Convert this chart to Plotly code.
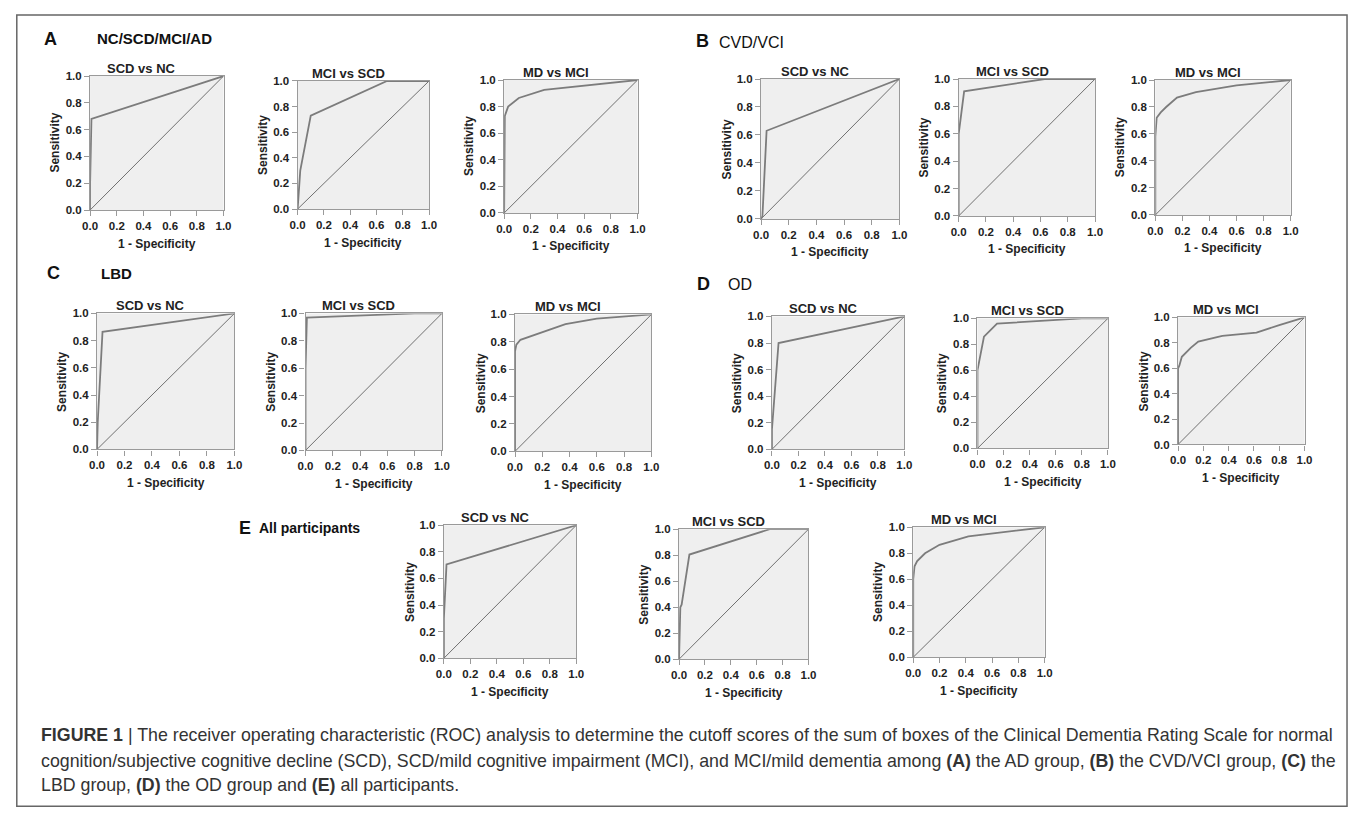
import plotly.graph_objects as go

# ---------------- data ----------------
comparisons = ["SCD vs NC", "MCI vs SCD", "MD vs MCI"]
tick_vals = [0.0, 0.2, 0.4, 0.6, 0.8, 1.0]
tick_text = ["0.0", "0.2", "0.4", "0.6", "0.8", "1.0"]

# A  NC/SCD/MCI/AD
A_scd_nc_fpr = [0.0, 0.0, 0.01, 1.0]
A_scd_nc_tpr = [0.0, 0.20, 0.68, 1.0]
A_mci_scd_fpr = [0.0, 0.01, 0.02, 0.10, 0.68, 1.0]
A_mci_scd_tpr = [0.0, 0.12, 0.30, 0.73, 1.0, 1.0]
A_md_mci_fpr = [0.0, 0.0, 0.005, 0.03, 0.11, 0.30, 1.0]
A_md_mci_tpr = [0.0, 0.60, 0.73, 0.80, 0.865, 0.925, 1.0]

# B  CVD/VCI
B_scd_nc_fpr = [0.0, 0.01, 0.04, 1.0]
B_scd_nc_tpr = [0.0, 0.02, 0.63, 1.0]
B_mci_scd_fpr = [0.0, 0.0, 0.04, 0.63, 1.0]
B_mci_scd_tpr = [0.0, 0.60, 0.91, 1.0, 1.0]
B_md_mci_fpr = [0.0, 0.0, 0.01, 0.04, 0.08, 0.16, 0.30, 0.60, 1.0]
B_md_mci_tpr = [0.0, 0.58, 0.72, 0.76, 0.80, 0.87, 0.91, 0.96, 1.0]

# C  LBD
C_scd_nc_fpr = [0.0, 0.005, 0.04, 1.0]
C_scd_nc_tpr = [0.0, 0.20, 0.865, 1.0]
C_mci_scd_fpr = [0.0, 0.0, 0.01, 0.80, 1.0]
C_mci_scd_tpr = [0.0, 0.60, 0.97, 1.0, 1.0]
C_md_mci_fpr = [0.0, 0.0, 0.01, 0.04, 0.37, 0.60, 1.0]
C_md_mci_tpr = [0.0, 0.73, 0.78, 0.815, 0.93, 0.97, 1.0]

# D  OD
D_scd_nc_fpr = [0.0, 0.0, 0.05, 1.0]
D_scd_nc_tpr = [0.0, 0.15, 0.80, 1.0]
D_mci_scd_fpr = [0.0, 0.0, 0.05, 0.15, 0.80, 1.0]
D_mci_scd_tpr = [0.0, 0.60, 0.86, 0.96, 1.0, 1.0]
D_md_mci_fpr = [0.0, 0.0, 0.01, 0.03, 0.10, 0.16, 0.35, 0.62, 0.80, 1.0]
D_md_mci_tpr = [0.0, 0.60, 0.62, 0.69, 0.76, 0.81, 0.855, 0.88, 0.94, 1.0]

# E  All participants
E_scd_nc_fpr = [0.0, 0.0, 0.02, 1.0]
E_scd_nc_tpr = [0.0, 0.30, 0.705, 1.0]
E_mci_scd_fpr = [0.0, 0.01, 0.02, 0.08, 0.70, 1.0]
E_mci_scd_tpr = [0.0, 0.40, 0.42, 0.805, 1.0, 1.0]
E_md_mci_fpr = [0.0, 0.0, 0.01, 0.03, 0.09, 0.20, 0.42, 1.0]
E_md_mci_tpr = [0.0, 0.60, 0.70, 0.74, 0.80, 0.865, 0.93, 1.0]

group_letters = ["A", "B", "C", "D", "E"]
group_names = ["NC/SCD/MCI/AD", "CVD/VCI", "LBD", "OD", "All participants"]

curves = [
    (A_scd_nc_fpr, A_scd_nc_tpr), (A_mci_scd_fpr, A_mci_scd_tpr), (A_md_mci_fpr, A_md_mci_tpr),
    (B_scd_nc_fpr, B_scd_nc_tpr), (B_mci_scd_fpr, B_mci_scd_tpr), (B_md_mci_fpr, B_md_mci_tpr),
    (C_scd_nc_fpr, C_scd_nc_tpr), (C_mci_scd_fpr, C_mci_scd_tpr), (C_md_mci_fpr, C_md_mci_tpr),
    (D_scd_nc_fpr, D_scd_nc_tpr), (D_mci_scd_fpr, D_mci_scd_tpr), (D_md_mci_fpr, D_md_mci_tpr),
    (E_scd_nc_fpr, E_scd_nc_tpr), (E_mci_scd_fpr, E_mci_scd_tpr), (E_md_mci_fpr, E_md_mci_tpr),
]

caption_lines = [
    "<b>FIGURE 1</b> | The receiver operating characteristic (ROC) analysis to determine the cutoff scores of the sum of boxes of the Clinical Dementia Rating Scale for normal",
    "cognition/subjective cognitive decline (SCD), SCD/mild cognitive impairment (MCI), and MCI/mild dementia among <b>(A)</b> the AD group, <b>(B)</b> the CVD/VCI group, <b>(C)</b> the",
    "LBD group, <b>(D)</b> the OD group and <b>(E)</b> all participants.",
]

# ---------------- layout (pixel geometry, window coordinates) ----------------
OFF = 8                 # default page margin of the html body
FW, FH = 1349, 805      # figure size so that the page fits the 1357x821 window
# plot areas: left, right, top, bottom (window px)
boxes = [
    (83, 218, 71, 207), (293, 426, 76, 206), (502, 637, 75, 210),
    (762, 902, 74, 216), (962, 1100, 74, 213), (1161, 1298, 75, 212),
    (90, 229, 312, 450), (301, 439, 312, 451), (513, 651, 313, 452),
    (773, 907, 315, 450), (981, 1113, 317, 449), (1184, 1312, 316, 445),
    (441, 575, 527, 662), (679, 810, 531, 663), (916, 1049, 529, 661),
]
# group header positions: letter (x, y), name (x_left, y), name bold?
headers = [
    ((43, 33), (88, 33), True),
    ((703, 35), (717, 37), False),
    ((46, 271), (92, 271), True),
    ((704, 282), (727, 283), False),
    ((240, 530), (252, 530), True),
]
header_name_sizes = [15, 16, 15, 16, 14]
caption_pos = [(31, 740), (31, 766), (31, 791)]

FONT = "Liberation Sans, Arial, Helvetica, sans-serif"
AXIS_GRAY = "#9a9a9a"
CURVE_GRAY = "#7c7c7c"
DIAG_GRAY = "#707070"
PLOT_BG = "#efefef"


def px(x):
    return (x - OFF) / FW


def py(y):
    return 1 - (y - OFF) / FH


fig = go.Figure()
annotations = []
shapes = []

for i, ((fpr, tpr), (l, r, t, b)) in enumerate(zip(curves, boxes)):
    n = i + 1
    xa = "x" if n == 1 else f"x{n}"
    ya = "y" if n == 1 else f"y{n}"
    # diagonal reference line
    fig.add_trace(go.Scatter(x=[0, 1], y=[0, 1], mode="lines",
                             line=dict(color=DIAG_GRAY, width=1),
                             xaxis=xa, yaxis=ya, showlegend=False, hoverinfo="skip"))
    # ROC curve
    fig.add_trace(go.Scatter(x=fpr, y=tpr, mode="lines",
                             line=dict(color=CURVE_GRAY, width=1.8),
                             xaxis=xa, yaxis=ya, showlegend=False,
                             name=comparisons[i % 3]))
    axis_common = dict(range=[0, 1], tickvals=tick_vals, ticktext=tick_text,
                       showgrid=False, zeroline=False, showline=True, mirror=True,
                       linecolor=AXIS_GRAY, linewidth=1.2, ticks="outside", ticklen=5,
                       tickcolor=AXIS_GRAY, tickwidth=1, fixedrange=True,
                       tickfont=dict(family=FONT, size=11.5, color="#222", weight="bold"))
    fig.update_layout(**{
        ("xaxis" if n == 1 else f"xaxis{n}"): dict(domain=[px(l), px(r)], anchor=ya, **axis_common),
        ("yaxis" if n == 1 else f"yaxis{n}"): dict(domain=[py(b), py(t)], anchor=xa, **axis_common),
    })
    # plot background
    shapes.append(dict(type="rect", xref=f"{xa} domain", yref=f"{ya} domain",
                       x0=0, x1=1, y0=0, y1=1, fillcolor=PLOT_BG, line=dict(width=0),
                       layer="below"))
    # subplot title
    annotations.append(dict(text=f"<b>{comparisons[i % 3]}</b>", x=px((l - 30 + r) / 2), y=py(t - 8),
                            xref="paper", yref="paper", showarrow=False, xanchor="center",
                            yanchor="middle", font=dict(family=FONT, size=13, color="#222")))
    # axis titles
    annotations.append(dict(text="<b>1 - Specificity</b>", x=px((l + r) / 2), y=py(b + 34),
                            xref="paper", yref="paper", showarrow=False, xanchor="center",
                            yanchor="middle", font=dict(family=FONT, size=12, color="#222")))
    annotations.append(dict(text="<b>Sensitivity</b>", x=px(l - 35), y=py((t + b) / 2),
                            xref="paper", yref="paper", showarrow=False, xanchor="center",
                            yanchor="middle", textangle=-90,
                            font=dict(family=FONT, size=12, color="#222")))

for letter, name, size, ((lx, ly), (nx, ny), bold) in zip(group_letters, group_names,
                                                          header_name_sizes, headers):
    annotations.append(dict(text=f"<b>{letter}</b>", x=px(lx), y=py(ly), xref="paper", yref="paper",
                            showarrow=False, xanchor="center", yanchor="middle",
                            font=dict(family=FONT, size=18, color="#111")))
    txt = f"<b>{name}</b>" if bold else name
    annotations.append(dict(text=txt, x=px(nx), y=py(ny), xref="paper", yref="paper",
                            showarrow=False, xanchor="left", yanchor="middle",
                            font=dict(family=FONT, size=size, color="#111")))

for line, (cx, cy) in zip(caption_lines, caption_pos):
    annotations.append(dict(text=line, x=px(cx), y=py(cy), xref="paper", yref="paper",
                            showarrow=False, xanchor="left", yanchor="middle", align="left",
                            font=dict(family=FONT, size=17.8, color="#333")))

# outer frame
shapes.append(dict(type="rect", xref="paper", yref="paper", x0=px(8.8), x1=px(1355),
                   y0=py(812.2), y1=py(9), line=dict(color="#666", width=1.5)))

fig.update_layout(width=FW, height=FH, autosize=False,
                  margin=dict(l=0, r=0, t=0, b=0, pad=0),
                  paper_bgcolor="white", plot_bgcolor="rgba(0,0,0,0)",
                  annotations=annotations, shapes=shapes, showlegend=False)

fig.write_html("out.html", config={"displayModeBar": False})
